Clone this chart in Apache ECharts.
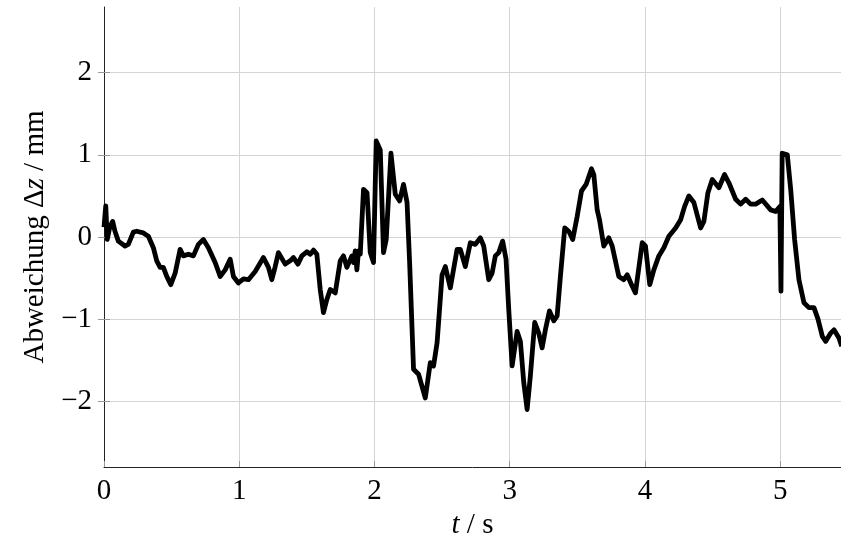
<!DOCTYPE html>
<html>
<head>
<meta charset="utf-8">
<script src="https://cdn.jsdelivr.net/npm/echarts@6/dist/echarts.min.js"></script>
<style>
html,body{margin:0;padding:0;background:#fff;}
#chart{width:841px;height:539px;}
</style>
</head>
<body>
<div id="chart"></div>
<script>
// time in seconds
const tValues = [
0.000,0.013,0.024,0.044,0.064,0.081,0.106,0.155,0.180,0.217,0.242,0.291,0.328,0.365,0.390,0.415,0.439,0.464,0.494,0.526,
0.563,0.587,0.624,0.661,0.698,0.735,0.772,0.822,0.859,0.896,0.933,0.957,0.994,1.031,1.068,1.118,1.179,1.216,1.241,1.266,
1.290,1.340,1.377,1.401,1.434,1.463,1.500,1.525,1.549,1.574,1.599,1.623,1.648,1.673,1.710,1.747,1.771,1.796,1.833,1.845,
1.858,1.870,1.882,1.895,1.919,1.945,1.969,1.993,2.013,2.043,2.067,2.087,2.122,2.154,2.186,2.215,2.241,2.260,2.289,2.326,
2.376,2.413,2.437,2.463,2.500,2.524,2.561,2.611,2.635,2.672,2.709,2.746,2.783,2.808,2.845,2.870,2.894,2.919,2.948,2.973,
2.993,3.018,3.055,3.079,3.104,3.129,3.153,3.185,3.215,3.240,3.264,3.294,3.326,3.351,3.375,3.407,3.437,3.466,3.499,3.531,
3.565,3.605,3.622,3.647,3.664,3.696,3.733,3.758,3.807,3.844,3.869,3.906,3.930,3.980,4.004,4.036,4.066,4.103,4.140,4.177,
4.227,4.264,4.293,4.325,4.362,4.412,4.436,4.466,4.498,4.547,4.589,4.621,4.671,4.708,4.745,4.782,4.819,4.868,4.930,4.967,
4.998,5.006,5.015,5.053,5.078,5.107,5.139,5.176,5.213,5.250,5.280,5.312,5.337,5.374,5.398,5.435,5.455
];
// deviation delta z in mm
const dzValues = [
0.12,0.38,-0.03,0.13,0.19,0.07,-0.05,-0.11,-0.09,0.06,0.07,0.05,0.01,-0.13,-0.29,-0.37,-0.37,-0.48,-0.58,-0.44,
-0.15,-0.23,-0.21,-0.23,-0.09,-0.03,-0.13,-0.31,-0.48,-0.40,-0.27,-0.48,-0.56,-0.51,-0.52,-0.42,-0.25,-0.37,-0.52,-0.36,
-0.19,-0.33,-0.29,-0.25,-0.33,-0.23,-0.18,-0.21,-0.16,-0.21,-0.64,-0.92,-0.76,-0.64,-0.68,-0.29,-0.23,-0.37,-0.23,-0.31,
-0.17,-0.40,-0.17,-0.21,0.58,0.54,-0.19,-0.31,1.17,1.06,-0.19,-0.03,1.02,0.52,0.44,0.64,0.42,-0.31,-1.61,-1.67,
-1.96,-1.53,-1.57,-1.29,-0.46,-0.36,-0.62,-0.15,-0.15,-0.36,-0.07,-0.09,-0.01,-0.11,-0.52,-0.44,-0.23,-0.19,-0.05,-0.27,
-0.88,-1.57,-1.15,-1.27,-1.77,-2.10,-1.69,-1.04,-1.17,-1.35,-1.13,-0.90,-1.02,-0.96,-0.48,0.11,0.07,-0.03,0.25,0.56,
0.64,0.83,0.76,0.33,0.21,-0.11,-0.01,-0.11,-0.48,-0.52,-0.46,-0.60,-0.68,-0.07,-0.11,-0.58,-0.40,-0.23,-0.13,0.01,
0.11,0.21,0.37,0.50,0.42,0.11,0.19,0.54,0.70,0.60,0.76,0.66,0.46,0.40,0.46,0.40,0.40,0.45,0.33,0.31,
0.37,-0.66,1.02,1.00,0.58,-0.03,-0.52,-0.80,-0.86,-0.86,-1.00,-1.21,-1.27,-1.17,-1.13,-1.23,-1.33
];
const xTicks = [0, 1, 2, 3, 4, 5];
const yTicks = [-2, -1, 0, 1, 2];

const seriesData = tValues.map((t, i) => [t, dzValues[i]]);
const fontFam = '"Liberation Serif", "DejaVu Serif", serif';
const fs = 29;
const gridColor = '#d4d4d4';
const tickColor = '#999999';
const fmt = v => String(v).replace('-', '\u2212');

const chart = echarts.init(document.getElementById('chart'), null, {renderer: 'canvas'});
chart.setOption({
  animation: false,
  backgroundColor: '#ffffff',
  grid: {left: 104, right: 0, top: 7, bottom: 72, containLabel: false, outerBoundsMode: 'none'},
  xAxis: [{
    type: 'value', min: 0, max: 5.45,
    axisLine: {show: true, onZero: false, lineStyle: {color: '#222', width: 1}},
    axisTick: {show: true, inside: true, length: 6, customValues: xTicks, lineStyle: {color: tickColor}},
    axisLabel: {customValues: xTicks, formatter: fmt, color: '#000', fontFamily: fontFam, fontSize: fs, margin: 10},
    splitLine: {show: true, lineStyle: {color: gridColor, width: 1}},
    name: '{i|t} / s', nameLocation: 'middle', nameGap: 41,
    nameTextStyle: {color: '#000', fontFamily: fontFam, fontSize: fs,
      rich: {i: {fontStyle: 'italic', fontFamily: fontFam, fontSize: fs, color: '#000'}}}
  }],
  yAxis: [{
    type: 'value', min: -2.8, max: 2.8,
    axisLine: {show: true, onZero: false, lineStyle: {color: '#222', width: 1}},
    axisTick: {show: true, inside: true, length: 6, customValues: yTicks, lineStyle: {color: tickColor}},
    axisLabel: {customValues: yTicks, formatter: fmt, color: '#000', fontFamily: fontFam, fontSize: fs, margin: 12},
    splitLine: {show: true, lineStyle: {color: gridColor, width: 1}},
    name: 'Abweichung Δ{i|z} / mm', nameLocation: 'middle', nameRotate: 90, nameGap: 51,
    nameTextStyle: {color: '#000', fontFamily: fontFam, fontSize: fs,
      rich: {i: {fontStyle: 'italic', fontFamily: fontFam, fontSize: fs, color: '#000'}}}
  }, {
    type: 'value', min: -2.8, max: 2.8, position: 'right',
    axisLine: {show: false},
    axisTick: {show: true, inside: true, length: 6, customValues: yTicks, lineStyle: {color: tickColor}},
    axisLabel: {show: false, customValues: yTicks},
    splitLine: {show: false}
  }],
  series: [{
    type: 'line',
    data: seriesData,
    showSymbol: false,
    symbol: 'none',
    lineStyle: {color: '#000', width: 4.8, join: 'round'},
    clip: true
  }]
});
</script>
</body>
</html>
